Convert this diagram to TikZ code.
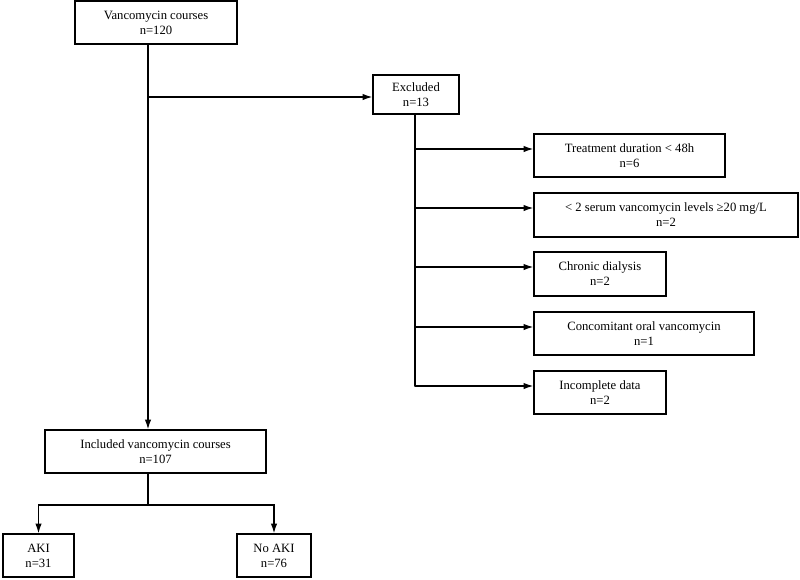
\documentclass[tikz,border=0pt]{standalone}
\usepackage{fontspec}
\setmainfont{Liberation Serif}
\usetikzlibrary{calc, arrows.meta}

\tikzset{
	box/.style 2 args = {draw, line width=0.9pt, inner sep=0pt, align=center,
		minimum width=#1*0.025cm, minimum height=#2*0.025cm,
		font=\fontsize{9}{10.7}\selectfont},
	link/.style = {line width=0.9pt, -{Latex[length=7pt, width=4.6pt]}}
}

\begin{document}
\begin{tikzpicture}[x=0.025cm, y=-0.025cm, line cap = round]
		\useasboundingbox (0,0) rectangle (800,579);
%		\draw (0,0) grid[step=50] (800,579);
		
		\coordinate (spine) at (148,97) {};
		\coordinate (e1) at (415,149) {};
		\coordinate (e2) at (415,208) {};
		\coordinate (e3) at (415,267) {};
		\coordinate (e4) at (415,327) {};
		\coordinate (e5) at (415,386) {};
		\coordinate (split) at (148,505) {};
		
		\node[box={162}{43}] (vanc) at (156,22.5) {Vancomycin courses\\n=120};
		\node[box={86}{39}] (excl) at (416,94.5) {Excluded\\n=13};
		\node[box={191}{43}] (treat) at (629.5,155.5) {Treatment duration < 48h\\n=6};
		\node[box={264}{44}] (serum) at (666,215) {< 2 serum vancomycin levels ≥20 mg/L\\n=2};
		\node[box={132}{44}] (dial) at (600,274) {Chronic dialysis\\n=2};
		\node[box={220}{43}] (conc) at (644,333.5) {Concomitant oral vancomycin\\n=1};
		\node[box={132}{43}] (incomp) at (600,392.5) {Incomplete data\\n=2};
		\node[box={221}{43}] (incl) at (155.5,451.5) {Included vancomycin courses\\n=107};
		\node[box={71}{43}] (aki) at (38.5,555.5) {AKI\\n=31};
		\node[box={74}{43}] (noaki) at (274,555.5) {No AKI\\n=76};
		
		\draw[link] (vanc.south -| spine) -- (incl.north -| spine);
		\draw[link] (spine) -- (spine -| excl.west);
		\draw[line width=0.9pt] (excl.south -| e1) -- (e5);
		\draw[link] (e1) -- (e1 -| treat.west);
		\draw[link] (e2) -- (e2 -| serum.west);
		\draw[link] (e3) -- (e3 -| dial.west);
		\draw[link] (e4) -- (e4 -| conc.west);
		\draw[link] (e5) -- (e5 -| incomp.west);
		
		\draw[line width=0.9pt] (incl.south -| split) -- (split);
		\draw[link] (split) -| (aki.north);
		\draw[link] (split) -| (noaki.north);
	\end{tikzpicture}
\end{document}
